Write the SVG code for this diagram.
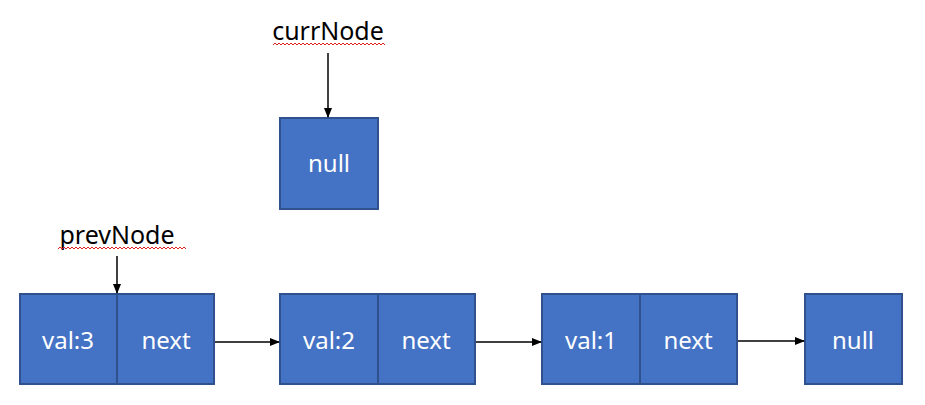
<svg xmlns="http://www.w3.org/2000/svg" width="925" height="405" viewBox="0 0 925 405">
<style>
.box{fill:#4472C4;stroke:#2F528F;stroke-width:2}
.t{font-family:"Noto Sans","Liberation Sans",sans-serif;font-size:24px;fill:#fff;text-anchor:middle}
.lbl{font-family:"Noto Sans","Liberation Sans",sans-serif;font-size:25px;fill:#000;text-anchor:middle}
.ln{stroke:#000;stroke-width:1.5;fill:none}
.wave{stroke:#e02020;stroke-width:1;fill:none}
</style>
<defs>
<marker id="ah" markerWidth="10" markerHeight="8" refX="9" refY="4" orient="auto" markerUnits="userSpaceOnUse">
<path d="M0,0 L10,4 L0,8 Z" fill="#000"/>
</marker>
</defs>
<rect width="925" height="405" fill="#fff"/>
<g id="currNodeLabel">
<text class="lbl" x="328" y="40">currNode</text>
<path class="wave" d="M273,45 l2,-2 l2,2 l2,-2 l2,2 l2,-2 l2,2 l2,-2 l2,2 l2,-2 l2,2 l2,-2 l2,2 l2,-2 l2,2 l2,-2 l2,2 l2,-2 l2,2 l2,-2 l2,2 l2,-2 l2,2 l2,-2 l2,2 l2,-2 l2,2 l2,-2 l2,2 l2,-2 l2,2 l2,-2 l2,2 l2,-2 l2,2 l2,-2 l2,2 l2,-2 l2,2 l2,-2 l2,2 l2,-2 l2,2 l2,-2 l2,2 l2,-2 l2,2 l2,-2 l2,2 l2,-2 l2,2 l2,-2 l2,2 l2,-2 l2,2 l2,-2 l2,2"/>
</g>
<g id="prevNodeLabel">
<text class="lbl" x="117" y="244">prevNode</text>
<path class="wave" d="M58,249 l2,-2 l2,2 l2,-2 l2,2 l2,-2 l2,2 l2,-2 l2,2 l2,-2 l2,2 l2,-2 l2,2 l2,-2 l2,2 l2,-2 l2,2 l2,-2 l2,2 l2,-2 l2,2 l2,-2 l2,2 l2,-2 l2,2 l2,-2 l2,2 l2,-2 l2,2 l2,-2 l2,2 l2,-2 l2,2 l2,-2 l2,2 l2,-2 l2,2 l2,-2 l2,2 l2,-2 l2,2 l2,-2 l2,2 l2,-2 l2,2 l2,-2 l2,2 l2,-2 l2,2 l2,-2 l2,2 l2,-2 l2,2 l2,-2 l2,2 l2,-2 l2,2 l2,-2 l2,2 l2,-2 l2,2 l2,-2 l2,2 l2,-2 l2,2"/>
</g>
<g id="currNull">
<rect class="box" x="280" y="118" width="98" height="91"/>
<text class="t" x="329" y="172">null</text>
</g>
<g id="node3">
<rect class="box" x="20" y="294" width="97" height="90"/>
<rect class="box" x="117" y="294" width="97" height="90"/>
<text class="t" x="68" y="349">val:3</text>
<text class="t" x="166" y="349">next</text>
</g>
<g id="node2">
<rect class="box" x="280" y="294" width="98" height="90"/>
<rect class="box" x="378" y="294" width="97" height="90"/>
<text class="t" x="329" y="349">val:2</text>
<text class="t" x="426" y="349">next</text>
</g>
<g id="node1">
<rect class="box" x="542" y="294" width="98" height="90"/>
<rect class="box" x="640" y="294" width="97" height="90"/>
<text class="t" x="591" y="349">val:1</text>
<text class="t" x="688" y="349">next</text>
</g>
<g id="nullNode">
<rect class="box" x="805" y="294" width="97" height="90"/>
<text class="t" x="853" y="349">null</text>
</g>
<g id="connectors">
<line class="ln" x1="328" y1="53" x2="328" y2="117" marker-end="url(#ah)"/>
<line class="ln" x1="117" y1="256" x2="117" y2="293" marker-end="url(#ah)"/>
<line class="ln" x1="215" y1="342" x2="279" y2="342" marker-end="url(#ah)"/>
<line class="ln" x1="476" y1="342" x2="541" y2="342" marker-end="url(#ah)"/>
<line class="ln" x1="738" y1="341" x2="804" y2="341" marker-end="url(#ah)"/>
</g>
</svg>
